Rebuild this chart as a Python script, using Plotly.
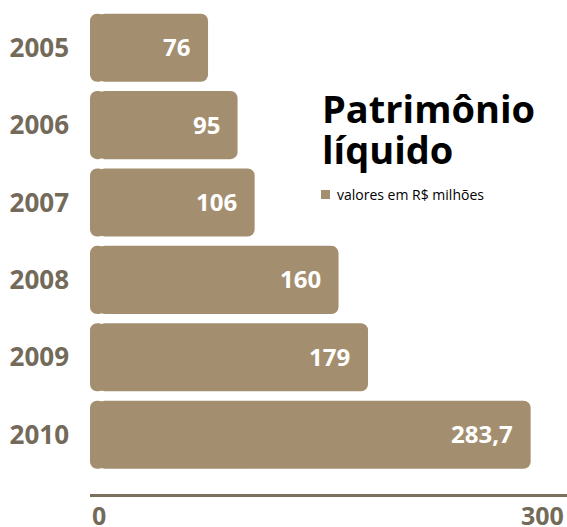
import plotly.graph_objects as go

# Patrimônio líquido, valores em R$ milhões
years = ["2005", "2006", "2007", "2008", "2009", "2010"]
values = [76, 95, 106, 160, 179, 283.7]
value_labels = ["76", "95", "106", "160", "179", "283,7"]
axis_ticks = [0, 300]
axis_tick_labels = ["0", "300"]

BAR = "#a38f6f"
GRAY = "#736a5a"
FONT = "Open Sans"
CAP = 10  # short left piece so both ends of each bar get rounded corners

fig = go.Figure()
# main body: rounded at the value end
fig.add_trace(go.Bar(
    x=[v - CAP / 2 for v in values], base=[CAP / 2] * len(values), y=years,
    orientation="h", marker=dict(color=BAR, line=dict(width=0)),
    width=0.88, hoverinfo="skip",
))
# left cap: a short negative bar from CAP back to 0, rounded at 0
fig.add_trace(go.Bar(
    x=[-CAP] * len(values), base=[CAP] * len(values), y=years,
    orientation="h", marker=dict(color=BAR, line=dict(width=0)),
    width=0.88, hoverinfo="skip",
))

# value labels inside the bar ends
for i, (v, lab) in enumerate(zip(values, value_labels)):
    fig.add_annotation(
        x=v, y=i, text=lab, showarrow=False,
        xanchor="right", yanchor="middle", xshift=-16, yshift=1,
        font=dict(family=FONT, size=24, color="white", weight="bold"),
    )

# axis tick labels under the baseline
fig.add_annotation(
    x=axis_ticks[0], y=0, yref="paper", text=axis_tick_labels[0], showarrow=False,
    xanchor="left", yanchor="middle", yshift=-21, xshift=0,
    font=dict(family=FONT, size=25, color=GRAY, weight="bold"),
)
fig.add_annotation(
    x=axis_ticks[1], y=0, yref="paper", text=axis_tick_labels[1], showarrow=False,
    xanchor="center", yanchor="middle", yshift=-21, xshift=-13,
    font=dict(family=FONT, size=25, color=GRAY, weight="bold"),
)

# title block
fig.add_annotation(
    x=(320 - 90) / 477, y=(494 - 108) / 485, xref="paper", yref="paper",
    text="Patrimônio", showarrow=False, xanchor="left", yanchor="middle",
    font=dict(family=FONT, size=38, color="black", weight="bold"),
)
fig.add_annotation(
    x=(320 - 90) / 477, y=(494 - 149) / 485, xref="paper", yref="paper",
    text="líquido", showarrow=False, xanchor="left", yanchor="middle",
    font=dict(family=FONT, size=38, color="black", weight="bold"),
)
fig.add_shape(
    type="rect", xref="paper", yref="paper",
    x0=(321 - 90) / 477, x1=(330 - 90) / 477,
    y0=(494 - 199) / 485, y1=(494 - 190) / 485,
    fillcolor=BAR, line=dict(width=0),
)
fig.add_annotation(
    x=(335 - 90) / 477, y=(494 - 194) / 485, xref="paper", yref="paper",
    text="valores em R$ milhões", showarrow=False, xanchor="left", yanchor="middle",
    font=dict(family=FONT, size=14, color="black"),
)

fig.update_layout(
    width=567, height=527,
    margin=dict(l=90, r=0, t=9, b=33),
    paper_bgcolor="white", plot_bgcolor="white",
    barmode="overlay",
    barcornerradius=7,
    showlegend=False,
    xaxis=dict(
        range=[0, 307.1], showgrid=False, zeroline=False,
        showline=True, linecolor="#7a705e", linewidth=2.5,
        showticklabels=False, ticks="",
    ),
    yaxis=dict(
        type="category", range=[5.766, -0.5], showgrid=False, zeroline=False,
        showline=False, ticks="", ticklabelstandoff=20,
        tickfont=dict(family=FONT, size=26, color=GRAY, weight="bold"),
    ),
)

fig.write_html("out.html")
